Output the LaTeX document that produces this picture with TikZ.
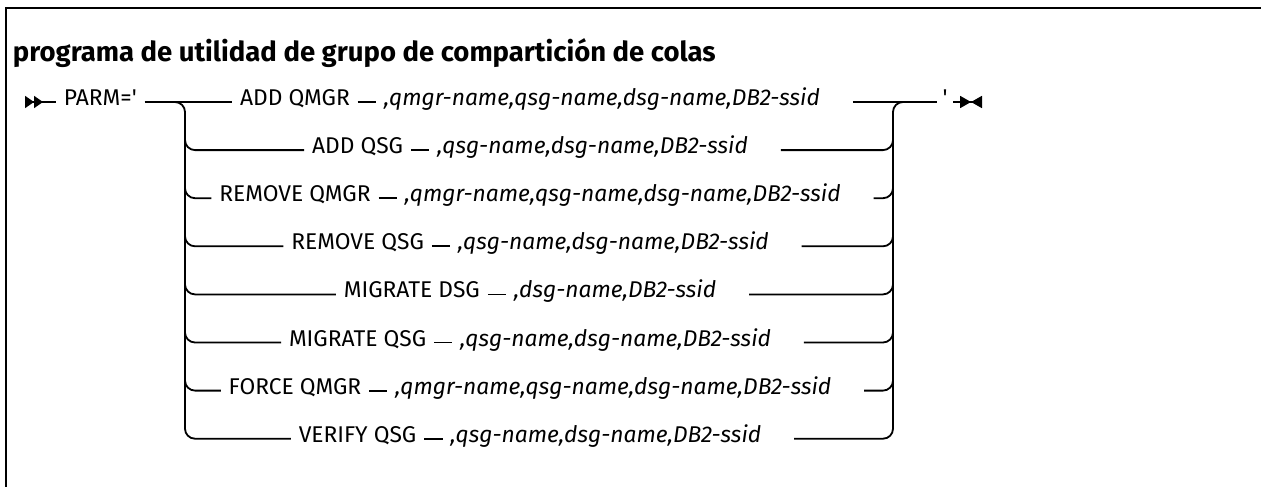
\documentclass[tikz,border=0pt]{standalone}
\usepackage{fontspec}
\setmainfont{Fira Sans}
\usetikzlibrary{arrows.meta, positioning, matrix}

\newcommand{\vqmgr}{,qmgr-name,qsg-name,dsg-name,DB2-ssid}
\newcommand{\vqsg}{,qsg-name,dsg-name,DB2-ssid}
\newcommand{\vdsg}{,dsg-name,DB2-ssid}

\begin{document}
\begin{tikzpicture}[x=1pt, y=-1pt, line width=1.8pt,
    kw/.style={inner xsep=7pt, inner ysep=0pt, text height=0.7em, text depth=0pt,
      font=\fontsize{22.8}{27}\selectfont},
    var/.style={kw, font=\fontsize{22.8}{27}\selectfont\itshape},
    rowm/.style={matrix, column sep=20pt, inner sep=0pt, ampersand replacement=\&}]
  \useasboundingbox (0,0) rectangle (1261,487);
  \draw[line width=2.6pt] (6,487) -- (6,8) -- (1261,8);
  \node[anchor=base west, inner sep=0pt, font=\fontsize{27.5}{32}\selectfont\bfseries]
    (title) at (12,62) {programa de utilidad de grupo de compartición de colas};
  \coordinate (start) at (25,102);
  \coordinate (lrail) at (185,102);
  \coordinate (rrail) at (893,102);
  \coordinate (stop) at (982,102);
  \node[kw, right=31pt of start] (parm) {PARM=\textquotesingle};
  \node[kw, inner xsep=5pt] (quote) at (945,102) {\textquotesingle};
  \draw[{Triangle[length=9pt,width=12pt,reversed]Triangle[length=9pt,width=12pt,reversed]}-] (start) -- (parm);
  \foreach \kw/\vr [count=\i from 0] in {ADD QMGR/\vqmgr, ADD QSG/\vqsg,
      REMOVE QMGR/\vqmgr, REMOVE QSG/\vqsg, MIGRATE DSG/\vdsg,
      MIGRATE QSG/\vqsg, FORCE QMGR/\vqmgr, VERIFY QSG/\vqsg} {
    \matrix[rowm] (m\i) at (530,{102+48.1*\i}) {
      \node[kw] (k\i) {\kw}; \& \node[var] (v\i) {\vr}; \\
    };
    \draw (k\i) -- (v\i);
  }
  \draw (parm) -- (k0);
  \draw ([xshift=25pt]v0.east) -- (quote);
  \draw[-{Triangle[length=11pt,width=12pt]Triangle[length=11pt,width=12pt,reversed]}] (quote) -- (stop);
  \draw[rounded corners=10pt] ([xshift=-30pt]lrail) -| (k7.west -| lrail) -- (k7.west);
  \draw[rounded corners=10pt] ([xshift=25pt]v7.east) -| (rrail) -- ([xshift=20pt]rrail);
  \foreach \i in {1,...,6} {
    \draw[rounded corners=10pt] (k\i.west -| lrail) ++(0,-20) |- (k\i.west);
    \draw[rounded corners=10pt] ([xshift=25pt]v\i.east) -| ([yshift=20pt]v\i.east -| rrail);
  }
\end{tikzpicture}
\end{document}
